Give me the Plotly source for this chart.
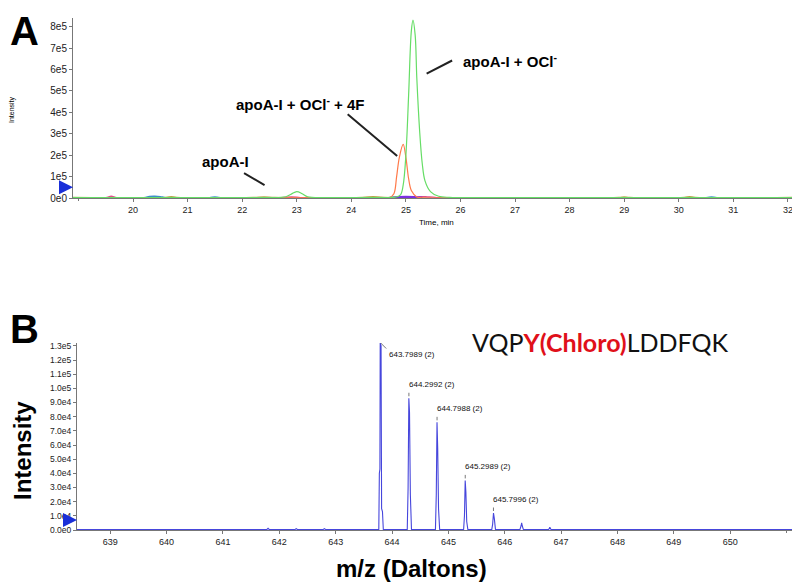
import plotly.graph_objects as go

# ---- panel A: extracted ion chromatograms (intensity in counts) ----
time_green = [18.9, 19.5, 20.0, 21.0, 22.0, 22.5, 22.8, 22.9, 23.0, 23.1, 23.2, 23.5, 24.0, 24.5, 24.8,
              24.9, 24.95, 25.0, 25.05, 25.1, 25.13, 25.17, 25.2, 25.25, 25.3, 25.35, 25.45, 25.6, 25.8,
              26.0, 27.0, 28.0, 29.0, 30.0, 31.0, 32.13]
int_green = [2e3, 2e3, 2e3, 2e3, 2e3, 2e3, 6e3, 1.8e4, 3.0e4, 2.0e4, 6e3, 2e3, 2e3, 2e3, 4e3,
             1.5e4, 6e4, 2.0e5, 4.8e5, 7.8e5, 8.3e5, 7.6e5, 5.6e5, 3.2e5, 1.6e5, 8e4, 3e4, 8e3, 3e3,
             2e3, 2e3, 2e3, 2e3, 2e3, 2e3, 2e3]

time_orange = [18.9, 20.0, 22.0, 24.0, 24.6, 24.7, 24.78, 24.83, 24.88, 24.95, 25.0, 25.05, 25.1,
               25.2, 25.3, 26.0, 28.0, 30.0, 32.13]
int_orange = [1e3, 1e3, 1e3, 1e3, 1e3, 2e3, 2.0e4, 1.0e5, 1.9e5, 2.5e5, 1.9e5, 9e4, 3.5e4,
              5e3, 1e3, 1e3, 1e3, 1e3, 1e3]

time_pink = [18.9, 19.5, 19.6, 19.7, 20.0, 22.7, 22.9, 23.0, 23.1, 25.15, 25.25, 25.4, 25.5, 25.6, 32.13]
int_pink = [1e3, 1e3, 8e3, 1e3, 1e3, 1e3, 5e3, 4e3, 1e3, 1e3, 6e3, 5e3, 4e3, 1e3, 1e3]

time_blue = [18.9, 20.2, 20.3, 20.4, 20.5, 20.6, 21.4, 21.5, 21.6, 30.5, 30.6, 30.7, 32.13]
int_blue = [1e3, 1e3, 7e3, 8e3, 6e3, 1e3, 1e3, 5e3, 1e3, 1e3, 4e3, 1e3, 1e3]

time_olive = [18.9, 20.6, 20.7, 20.8, 22.2, 22.4, 22.6, 24.2, 24.4, 24.6, 28.9, 29.0, 29.1,
              30.1, 30.2, 30.3, 32.13]
int_olive = [2e3, 2e3, 6e3, 2e3, 2e3, 5e3, 2e3, 2e3, 6e3, 2e3, 2e3, 5e3, 2e3,
             2e3, 6e3, 2e3, 2e3]

time_purple = [24.7, 24.85, 25.0, 25.15, 25.3]
int_purple = [1e3, 4e3, 5e3, 4e3, 1e3]

chrom_yticks = [0, 1e5, 2e5, 3e5, 4e5, 5e5, 6e5, 7e5, 8e5]
chrom_ylabels = ['0e0', '1e5', '2e5', '3e5', '4e5', '5e5', '6e5', '7e5', '8e5']
chrom_xticks = list(range(20, 33))

# ---- panel B: MS spectrum of VQPY(Chloro)LDDFQK, charge 2 ----
spec_mz = [638.4, 639.0, 639.5, 640.0, 640.5, 641.0, 641.5, 641.78, 641.8, 641.82, 642.0,
           642.28, 642.3, 642.32, 642.5, 642.78, 642.8, 642.82, 643.3,
           643.765, 643.775, 643.785, 643.79, 643.805, 643.815, 643.83, 643.845, 644.0,
           644.27, 644.285, 644.298, 644.31, 644.325, 644.345, 644.5,
           644.77, 644.785, 644.798, 644.81, 644.825, 644.845, 645.0,
           645.27, 645.285, 645.298, 645.31, 645.325, 645.345, 645.5,
           645.77, 645.785, 645.8, 645.815, 645.835, 646.0,
           646.27, 646.29, 646.3, 646.31, 646.33, 646.5,
           646.78, 646.8, 646.82, 647.0, 648.0, 649.0, 650.0, 651.15]
spec_int = [400, 400, 300, 400, 300, 400, 300, 400, 1200, 400, 300,
            400, 1000, 400, 300, 400, 1000, 400, 300,
            400, 4.0e4, 4.3e4, 1.32e5, 1.3e5, 1.5e4, 1.3e4, 400, 300,
            400, 3.0e4, 9.3e4, 8.3e4, 2.5e4, 400, 300,
            400, 2.5e4, 7.6e4, 5.8e4, 1.5e4, 400, 300,
            400, 1.0e4, 3.5e4, 2.7e4, 6e3, 400, 300,
            400, 4e3, 1.2e4, 8e3, 400, 300,
            400, 3e3, 5e3, 3e3, 400, 300,
            400, 2e3, 400, 300, 400, 300, 400, 400]

label_mz = [643.7989, 644.2992, 644.7988, 645.2989, 645.7996]
label_int = [1.32e5, 9.3e4, 7.6e4, 3.5e4, 1.2e4]

spec_yticks = [i * 1e4 for i in range(14)]
spec_ylabels = ['0.0e0', '1.0e4', '2.0e4', '3.0e4', '4.0e4', '5.0e4', '6.0e4', '7.0e4',
                '8.0e4', '9.0e4', '1.0e5', '1.1e5', '1.2e5', '1.3e5']
spec_xticks = list(range(639, 651))

NARROW = 'Liberation Sans Narrow, Arial Narrow, Liberation Sans, Arial, sans-serif'
BOLD = 'Liberation Sans, Arial, sans-serif'

# the page body has an 8px margin, so the figure is 792x576 and sits at (8, 8)
W, H, OFF = 792, 576, 8


def px(x):
    return (x - OFF) / W


def py(y):
    return 1 - (y - OFF) / H


fig = go.Figure()


def chrom(t, y, color, width=1.2):
    fig.add_trace(go.Scatter(x=t, y=y, mode='lines', line=dict(color=color, width=width, shape='spline'),
                             xaxis='x', yaxis='y', showlegend=False, hoverinfo='skip'))


chrom(time_olive, int_olive, '#b9a44a', 1.6)
chrom(time_blue, int_blue, '#3f8fc8', 1.6)
chrom(time_pink, int_pink, '#e0508a', 1.4)
chrom(time_purple, int_purple, '#7a2fe0', 2.2)
chrom(time_orange, int_orange, '#ff7a4a')
chrom(time_green, int_green, '#66dd66')

fig.add_trace(go.Scatter(x=spec_mz, y=spec_int, mode='lines', line=dict(color='#4646dc', width=1.1),
                         xaxis='x2', yaxis='y2', showlegend=False, hoverinfo='skip'))


def axis_style(size):
    return dict(showline=True, linecolor='#777777', linewidth=1, ticks='outside', ticklen=3,
                tickcolor='#777777', showgrid=False, zeroline=False, automargin=False,
                tickfont=dict(family=NARROW, size=size, color='#222222'))


minor_ticks = dict(ticks='outside', ticklen=2, nticks=5, tickcolor='#777777')

fig.update_layout(
    width=W, height=H,
    margin=dict(l=0, r=0, t=0, b=0, autoexpand=False),
    paper_bgcolor='white', plot_bgcolor='white',
    xaxis=dict(domain=[px(73), px(795)], anchor='y', range=[18.9, 32.13],
               tickvals=chrom_xticks, minor=minor_ticks, **axis_style(9)),
    yaxis=dict(domain=[py(198), py(18)], anchor='x', range=[0, 8.4e5],
               tickvals=chrom_yticks, ticktext=chrom_ylabels, **axis_style(10)),
    xaxis2=dict(domain=[px(77), px(795)], anchor='y2', range=[638.41, 651.15],
                tickvals=spec_xticks, minor=minor_ticks, **axis_style(9)),
    yaxis2=dict(domain=[py(530), py(343)], anchor='x2', range=[0, 1.32e5],
                tickvals=spec_yticks, ticktext=spec_ylabels, **axis_style(8.5)),
)

ann = []


def paper_text(x, y, text, size, family=BOLD, color='black', angle=0):
    ann.append(dict(xref='paper', yref='paper', x=px(x), y=py(y), text=text, showarrow=False,
                    xanchor='center', yanchor='middle',
                    font=dict(family=family, size=size, color=color), textangle=angle))


# panel letters and axis titles
paper_text(24, 31, '<b>A</b>', 40)
paper_text(24, 329, '<b>B</b>', 40)
paper_text(12, 110, 'Intensity', 7, family=NARROW, angle=-90)
paper_text(436, 222, 'Time, min', 8, family=NARROW)
paper_text(22, 451, '<b>Intensity</b>', 24, angle=-90)
paper_text(412, 568, '<b>m/z (Daltons)</b>', 24)

# peak labels in panel A
paper_text(225, 161, '<b>apoA-I</b>', 15)
paper_text(300, 103, '<b>apoA-I + OCl<sup>-</sup> + 4F</b>', 15)
paper_text(510, 60, '<b>apoA-I + OCl<sup>-</sup></b>', 15)
for x, y, ax, ay in [(22.41, 0.6e5, -22, -13), (24.84, 1.96e5, -51, -43), (25.38, 5.8e5, 27, -14)]:
    ann.append(dict(xref='x', yref='y', x=x, y=y, ax=ax, ay=ay, text='', showarrow=True,
                    arrowhead=0, arrowwidth=2, arrowcolor='#222222', standoff=0, startstandoff=0))

# blue arrow markers at the y axes
for xr, yr, yv in [('x domain', 'y', 0.5e5), ('x2 domain', 'y2', 0.7e4)]:
    ann.append(dict(xref=xr, yref=yr, x=0, y=yv, ax=-7, ay=0, text='', showarrow=True,
                    arrowhead=2, arrowsize=1.4, arrowwidth=2, arrowcolor='#1a2fd8', standoff=0))

# peptide sequence
paper_text(600, 342, 'VQP<span style="color:#e0101a"><b>Y(Chloro)</b></span>LDDFQK', 25,
           family='Lato, Open Sans, sans-serif', color='#111111')

# m/z peak labels
label_font = dict(family=NARROW, size=8, color='#111111')
for i, (m, h) in enumerate(zip(label_mz, label_int)):
    txt = f'{m:.4f} (2)'
    if i == 0:
        ann.append(dict(xref='x2', yref='y2', x=m, y=h, text=txt, showarrow=False, xanchor='left',
                        yanchor='top', xshift=6, yshift=-5, font=label_font))
        ann.append(dict(xref='x2', yref='y2', x=m, y=h, ax=7, ay=7, text='', showarrow=True,
                        arrowhead=0, arrowwidth=0.8, arrowcolor='#555555', standoff=0))
    else:
        ann.append(dict(xref='x2', yref='y2', x=m, y=h, text=txt, showarrow=False, xanchor='left',
                        yanchor='bottom', xshift=-2, yshift=7, font=label_font))
        ann.append(dict(xref='x2', yref='y2', x=m, y=h, ax=0, ay=-7, text='', showarrow=True,
                        arrowhead=0, arrowwidth=0.8, arrowcolor='#555555', standoff=2))

fig.update_layout(annotations=ann)

fig.write_html("out.html")
